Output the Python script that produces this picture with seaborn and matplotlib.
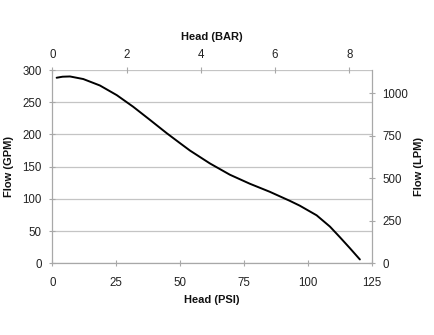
import numpy as np
import pandas as pd
import matplotlib
matplotlib.use("Agg")
import matplotlib.pyplot as plt
import seaborn as sns

# pump curve
head_psi = [1.7, 4.0, 6.9, 12.1, 18.6, 25.2, 31.6, 38.2, 44.7, 49.9, 53.8, 61.6, 69.4,
            77.2, 85.0, 88.9, 92.8, 96.7, 103.3, 108.5, 112.4, 116.3, 120.2]
flow_gpm = [288, 289.6, 290, 286, 276, 261, 243, 222.5, 202, 186.5, 175, 155, 137.5,
            123.5, 111, 104, 97, 89.5, 74.5, 57, 40.5, 23.5, 6]

psi_ticks = [0, 25, 50, 75, 100, 125]
gpm_ticks = [0, 50, 100, 150, 200, 250, 300]
bar_ticks = [0, 2, 4, 6, 8]
lpm_ticks = [0, 250, 500, 750, 1000]

PSI_PER_BAR = 14.5038
LPM_PER_GPM = 3.78541

sns.set_style("white")
plt.rcParams["font.family"] = ["Liberation Sans", "DejaVu Sans"]

df = pd.DataFrame({"psi": head_psi, "gpm": flow_gpm})

fig = plt.figure(figsize=(4.34, 3.35), dpi=100)
ax = fig.add_axes([0.1205, 0.214, 0.737, 0.577])

sns.lineplot(data=df, x="psi", y="gpm", ax=ax, color="black", linewidth=1.4,
             solid_joinstyle="round", solid_capstyle="round")

ax.set_xlim(0, 125)
ax.set_ylim(0, 300)
ax.set_xticks(psi_ticks)
ax.set_yticks(gpm_ticks)
ax.yaxis.grid(True, color="#c4c4c4", linewidth=0.9)
ax.xaxis.grid(False)

lab_kw = dict(fontsize=8, fontweight="bold", color="#111111")
ax.set_xlabel("Head (PSI)", labelpad=4, **lab_kw)
ax.set_ylabel("Flow (GPM)", labelpad=6, **lab_kw)

grey = "#a8a8a8"
for s in ax.spines.values():
    s.set_color(grey)
    s.set_linewidth(0.9)
ax.spines["top"].set_visible(False)

tick_kw = dict(direction="inout", length=5, width=0.8, color=grey,
               labelsize=8.3, labelcolor="#222222")
ax.tick_params(axis="x", pad=7.7, **tick_kw)
ax.tick_params(axis="y", pad=5, **tick_kw)

# top axis: head in bar
ax_top = ax.twiny()
ax_top.set_xlim(0, 125 / PSI_PER_BAR)
ax_top.set_xticks(bar_ticks)
ax_top.set_xlabel("Head (BAR)", labelpad=6.5, **lab_kw)
ax_top.tick_params(axis="x", pad=4, **tick_kw)
for s in ax_top.spines.values():
    s.set_visible(False)

# right axis: flow in lpm
ax_r = ax.twinx()
ax_r.set_ylim(0, 300 * LPM_PER_GPM)
ax_r.set_yticks(lpm_ticks)
ax_r.set_ylabel("Flow (LPM)", labelpad=4, **lab_kw)
ax_r.tick_params(axis="y", pad=5, **tick_kw)
for s in ax_r.spines.values():
    s.set_visible(False)

fig.savefig("out.png", dpi=100, facecolor="white")
